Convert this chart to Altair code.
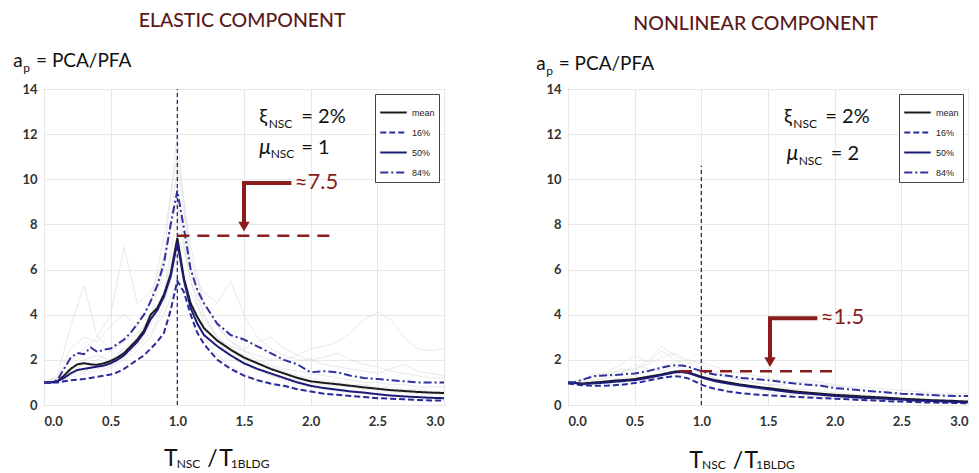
import altair as alt
import pandas as pd

# ---------------- data ----------------
STATS = ["mean", "16%", "50%", "84%"]
STAT_COLORS = ["#1a1a1a", "#2a2a9c", "#1c1c78", "#3030a0"]
STAT_DASH = [[1, 0], [6, 3], [1, 0], [8, 3, 2, 3]]

x_stat = [0, 0.05, 0.1, 0.15, 0.2, 0.25, 0.3, 0.35, 0.4, 0.45, 0.5, 0.55, 0.6, 0.65, 0.7,
          0.75, 0.8, 0.85, 0.9, 0.95, 1.0, 1.05, 1.1, 1.15, 1.2, 1.3, 1.4, 1.5, 1.6, 1.7,
          1.8, 1.9, 2.0, 2.1, 2.2, 2.3, 2.4, 2.5, 2.6, 2.7, 2.8, 2.9, 3.0]

# elastic component
el_mean = [1.0, 1.0, 1.05, 1.3, 1.6, 1.8, 1.85, 1.8, 1.78, 1.85, 1.95, 2.1, 2.3, 2.6, 2.9,
           3.3, 4.0, 4.3, 4.9, 5.8, 7.4, 5.6, 4.5, 3.9, 3.4, 2.85, 2.45, 2.1, 1.85, 1.6,
           1.4, 1.2, 1.05, 0.98, 0.92, 0.85, 0.78, 0.72, 0.66, 0.62, 0.58, 0.55, 0.53]
el_p50 = [1.0, 1.0, 1.05, 1.2, 1.4, 1.55, 1.6, 1.65, 1.7, 1.75, 1.85, 2.0, 2.2, 2.5, 2.8,
          3.2, 3.8, 4.2, 4.8, 5.7, 7.2, 5.5, 4.3, 3.6, 3.1, 2.6, 2.2, 1.85, 1.6, 1.4,
          1.2, 1.0, 0.85, 0.75, 0.68, 0.6, 0.55, 0.48, 0.42, 0.38, 0.35, 0.32, 0.3]
el_p16 = [1.0, 1.0, 1.0, 1.05, 1.1, 1.12, 1.15, 1.2, 1.25, 1.3, 1.35, 1.45, 1.6, 1.8, 2.0,
          2.2, 2.5, 2.8, 3.2, 4.2, 5.5, 5.0, 4.0, 3.2, 2.7, 2.0, 1.6, 1.3, 1.1, 0.95,
          0.85, 0.7, 0.6, 0.5, 0.45, 0.4, 0.35, 0.3, 0.28, 0.25, 0.22, 0.2, 0.2]
el_p84 = [1.0, 1.0, 1.1, 1.6, 2.1, 2.3, 2.25, 2.55, 2.35, 2.45, 2.5, 2.7, 2.9, 3.2, 3.6,
          4.0, 4.6, 5.3, 6.3, 8.0, 9.5, 7.8, 6.0, 5.1, 4.5, 3.6, 3.1, 2.9, 2.6, 2.3,
          2.0, 1.8, 1.45, 1.5, 1.45, 1.3, 1.2, 1.15, 1.1, 1.05, 1.0, 1.0, 1.0]

# nonlinear component
nl_mean = [1.0, 0.98, 0.95, 0.97, 1.0, 1.02, 1.05, 1.08, 1.1, 1.12, 1.15, 1.2, 1.25, 1.3, 1.35,
           1.42, 1.48, 1.5, 1.45, 1.35, 1.25, 1.18, 1.1, 1.05, 1.0, 0.9, 0.82, 0.75, 0.68, 0.6,
           0.55, 0.5, 0.45, 0.42, 0.38, 0.35, 0.32, 0.28, 0.25, 0.22, 0.2, 0.18, 0.15]
nl_p50 = [1.0, 0.97, 0.93, 0.94, 0.96, 0.98, 1.0, 1.03, 1.05, 1.08, 1.1, 1.15, 1.2, 1.26, 1.32,
          1.38, 1.44, 1.46, 1.42, 1.32, 1.22, 1.14, 1.06, 1.0, 0.95, 0.86, 0.78, 0.7, 0.62, 0.55,
          0.5, 0.45, 0.4, 0.36, 0.32, 0.3, 0.27, 0.24, 0.2, 0.18, 0.16, 0.14, 0.12]
nl_p16 = [0.95, 0.92, 0.88, 0.86, 0.85, 0.85, 0.86, 0.88, 0.9, 0.93, 0.97, 1.02, 1.08, 1.14, 1.2,
          1.24, 1.27, 1.25, 1.18, 1.05, 0.9, 0.8, 0.72, 0.66, 0.6, 0.52, 0.47, 0.43, 0.4, 0.36,
          0.33, 0.3, 0.28, 0.25, 0.22, 0.2, 0.17, 0.15, 0.13, 0.11, 0.1, 0.09, 0.08]
nl_p84 = [1.0, 1.02, 1.1, 1.2, 1.28, 1.3, 1.32, 1.33, 1.35, 1.38, 1.4, 1.45, 1.5, 1.58, 1.65,
          1.72, 1.76, 1.75, 1.7, 1.6, 1.5, 1.42, 1.35, 1.32, 1.3, 1.2, 1.15, 1.1, 1.02, 0.95,
          0.9, 0.85, 0.75, 0.7, 0.65, 0.6, 0.55, 0.5, 0.48, 0.45, 0.42, 0.4, 0.4]

# individual records (faint grey)
x_rec = [round(i * 0.1, 1) for i in range(31)]
el_records = [
    [1.0, 1.1, 1.5, 1.8, 2.0, 2.4, 2.8, 3.5, 4.5, 6.5, 12.0, 6.0, 4.0, 3.0, 2.4, 2.0, 1.6, 1.3, 1.1, 0.9, 0.8, 0.7, 0.6, 0.55, 0.5, 0.45, 0.4, 0.4, 0.35, 0.3, 0.3],
    [1.0, 1.3, 3.5, 5.3, 3.0, 2.5, 2.8, 3.2, 3.8, 5.0, 8.5, 5.5, 3.5, 2.8, 2.2, 1.8, 1.5, 1.3, 1.2, 1.1, 1.0, 0.9, 0.85, 0.8, 0.7, 0.65, 0.6, 0.55, 0.5, 0.5, 0.45],
    [1.0, 1.2, 2.0, 2.5, 3.0, 4.0, 7.0, 4.5, 5.0, 6.5, 9.0, 5.5, 4.0, 3.0, 2.5, 2.2, 1.9, 1.7, 1.5, 1.3, 1.2, 1.1, 1.0, 0.9, 0.9, 0.8, 0.8, 0.7, 0.7, 0.6, 0.6],
    [1.0, 1.1, 1.6, 2.0, 2.2, 2.0, 2.5, 3.0, 4.0, 6.0, 10.5, 6.5, 4.5, 3.5, 2.8, 2.4, 2.2, 2.0, 2.0, 2.2, 2.5, 2.6, 2.8, 3.2, 3.8, 4.1, 3.8, 3.0, 2.5, 2.4, 2.5],
    [1.0, 1.0, 1.4, 1.6, 1.8, 2.0, 2.3, 2.8, 3.5, 5.0, 7.5, 6.0, 5.0, 4.5, 5.5, 4.0, 3.0, 2.5, 2.2, 2.0, 2.0, 2.1, 2.3, 2.0, 1.8, 1.7, 1.5, 1.4, 1.3, 1.2, 1.2],
    [1.0, 1.0, 1.2, 1.4, 1.5, 1.7, 2.0, 2.4, 3.0, 4.5, 6.5, 4.5, 3.0, 2.2, 1.7, 1.4, 1.1, 0.9, 0.8, 0.7, 0.6, 0.5, 0.45, 0.4, 0.35, 0.3, 0.3, 0.25, 0.25, 0.2, 0.2],
    [1.0, 1.2, 2.5, 3.0, 2.8, 3.5, 4.0, 3.5, 4.5, 7.5, 11.0, 7.0, 4.5, 3.5, 2.8, 2.5, 2.8, 3.0, 2.5, 2.2, 2.0, 1.8, 1.7, 1.6, 1.5, 1.4, 1.6, 1.8, 1.5, 1.4, 1.3],
    [1.0, 1.0, 1.3, 1.5, 1.6, 1.8, 2.1, 2.6, 3.2, 4.0, 5.5, 5.0, 3.8, 3.0, 2.6, 2.4, 2.0, 1.8, 1.6, 1.5, 1.4, 1.3, 1.2, 1.1, 1.0, 1.0, 0.9, 0.9, 0.8, 0.8, 0.8],
]
nl_records = [
    [1.0, 1.0, 1.2, 1.5, 1.8, 2.2, 1.9, 2.4, 2.0, 1.7, 1.4, 1.2, 1.0, 0.9, 0.8, 0.7, 0.6, 0.5, 0.5, 0.4, 0.4, 0.35, 0.3, 0.3, 0.25, 0.25, 0.2, 0.2, 0.2, 0.15, 0.15],
    [1.0, 1.1, 1.4, 1.3, 1.6, 1.5, 2.0, 2.6, 2.2, 1.9, 1.6, 1.4, 1.2, 1.1, 1.0, 0.9, 0.9, 1.0, 1.1, 1.0, 0.9, 0.8, 0.7, 0.6, 0.6, 0.5, 0.5, 0.45, 0.4, 0.4, 0.4],
    [1.0, 0.9, 1.0, 1.1, 1.2, 1.3, 1.5, 1.7, 1.9, 2.0, 1.8, 1.5, 1.3, 1.1, 1.0, 0.9, 0.8, 0.7, 0.7, 0.6, 0.55, 0.5, 0.45, 0.4, 0.35, 0.3, 0.3, 0.25, 0.25, 0.2, 0.2],
    [1.0, 1.0, 1.1, 1.2, 1.4, 1.8, 1.6, 1.5, 1.7, 1.5, 1.3, 1.1, 0.9, 0.8, 0.7, 0.6, 0.5, 0.45, 0.4, 0.35, 0.3, 0.3, 0.25, 0.2, 0.2, 0.2, 0.15, 0.15, 0.1, 0.1, 0.1],
    [1.0, 1.1, 1.3, 1.4, 1.5, 1.6, 1.8, 2.1, 2.3, 2.0, 1.9, 1.7, 1.5, 1.4, 1.3, 1.2, 1.1, 1.0, 1.0, 0.9, 0.85, 0.8, 0.8, 0.75, 0.7, 0.65, 0.6, 0.55, 0.5, 0.5, 0.5],
]

# annotation values
el_level = 7.5
nl_level = 1.5
el_vline_top = 14
nl_vline_top = 10.6

TITLE_COLOR = "#5a1a1a"
RED = "#8b1c1c"
INK = "#111111"
FONT = "Lato"

AXIS_STYLE = dict(title=None, ticks=False, domain=False, gridColor="#e8e8e8",
                  labelFont=FONT, labelFontWeight="bold", labelFontSize=13,
                  labelColor="#333")


def panel(stats, records, level, lvl_x0, lvl_x1, arrow_x, arrow_top, vtop):
    sdf = pd.concat([
        pd.DataFrame({"x": x_stat, "y": vals, "stat": s}) for s, vals in zip(STATS, stats)
    ])
    rdf = pd.concat([
        pd.DataFrame({"x": x_rec, "y": vals, "rec": i}) for i, vals in enumerate(records)
    ])
    xs = alt.Scale(domain=[0, 3], nice=False)
    ys = alt.Scale(domain=[0, 14], nice=False)
    X = alt.X("x:Q", scale=xs, axis=alt.Axis(values=[0, 0.5, 1, 1.5, 2, 2.5, 3], format=".1f",
                                               labelPadding=10, **AXIS_STYLE))
    Y = alt.Y("y:Q", scale=ys, axis=alt.Axis(values=list(range(0, 15, 2)),
                                               labelPadding=7, **AXIS_STYLE))

    grey = alt.Chart(rdf).mark_line(strokeWidth=0.8, color="#dcdcdc", opacity=0.8).encode(
        x=X, y=Y, detail="rec:N")

    stat_lines = alt.Chart(sdf).mark_line(strokeWidth=2).encode(
        x=X, y=Y,
        color=alt.Color("stat:N", scale=alt.Scale(domain=STATS, range=STAT_COLORS),
                        legend=alt.Legend(title=None, orient="top-right")),
        strokeDash=alt.StrokeDash("stat:N", scale=alt.Scale(domain=STATS, range=STAT_DASH),
                                  legend=alt.Legend(title=None, orient="top-right")),
    )

    vdf = pd.DataFrame({"x": [1.0], "y": [0.0], "y2": [vtop]})
    vline = alt.Chart(vdf).mark_rule(color="#2a2a7a", strokeDash=[4, 3], strokeWidth=1.3).encode(
        x="x:Q", y="y:Q", y2="y2:Q")

    ldf = pd.DataFrame({"x": [lvl_x0], "x2": [lvl_x1], "y": [level]})
    lvl = alt.Chart(ldf).mark_rule(color=RED, strokeDash=[12, 8], strokeWidth=2.5).encode(
        x="x:Q", x2="x2:Q", y="y:Q")

    adf = pd.DataFrame({"x": [arrow_x + 0.355, arrow_x, arrow_x],
                        "y": [arrow_top, arrow_top, level + 0.55], "o": [0, 1, 2]})
    arrow = alt.Chart(adf).mark_line(color=RED, strokeWidth=4).encode(
        x="x:Q", y="y:Q", order="o:Q")
    hdf = pd.DataFrame({"x": [arrow_x], "y": [level + 0.4]})
    head = alt.Chart(hdf).mark_point(shape="triangle-down", filled=True, color=RED,
                                      size=130, opacity=1).encode(x="x:Q", y="y:Q")
    tdf = pd.DataFrame({"x": [arrow_x + 0.38], "y": [arrow_top + 0.05],
                        "t": ["\u2248" + str(level)]})
    atext = alt.Chart(tdf).mark_text(color=RED, fontSize=22, font=FONT, align="left",
                                     baseline="middle").encode(x="x:Q", y="y:Q", text="t:N")
    return [grey, vline, stat_lines, lvl, arrow, head, atext]


def texts(rows, color=INK, italic=False, weight="normal"):
    df = pd.DataFrame(rows, columns=["x", "y", "t", "fs"])
    return alt.Chart(df).mark_text(font=FONT, align="left", baseline="middle", color=color,
                                   fontWeight=weight,
                                   fontStyle="italic" if italic else "normal").encode(
        x="x:Q", y="y:Q", text="t:N",
        size=alt.Size("fs:Q", scale=None, legend=None),
    )


L = panel([el_mean, el_p16, el_p50, el_p84], el_records, el_level, 1.0, 2.17,
          1.5, 9.83, el_vline_top)
R = panel([nl_mean, nl_p16, nl_p50, nl_p84], nl_records, nl_level, 0.84, 1.99,
          1.515, 3.84, nl_vline_top)

left_title = texts([[0.71, 17.0, "ELASTIC COMPONENT", 19.5]], color=TITLE_COLOR, weight=500)
left_txt = texts([
    [-0.23, 15.25, "a", 19],
    [-0.155, 14.95, "p", 12],
    [-0.06, 15.25, "= PCA/PFA", 19],
    [1.615, 12.75, "\u03be", 20],
    [1.685, 12.45, "NSC", 12],
    [1.93, 12.75, "= 2%", 20],
    [1.70, 11.1, "NSC", 12],
    [1.93, 11.4, "= 1", 20],
    [0.90, -2.4, "T", 23],
    [0.995, -2.6, "NSC", 12],
    [1.225, -2.4, "/\u200aT", 23],
    [1.40, -2.6, "1BLDG", 12],
])
left_mu = texts([[1.615, 11.4, "\u03bc", 21]], italic=True)

right_title = texts([[0.49, 16.87, "NONLINEAR COMPONENT", 19.5]], color=TITLE_COLOR, weight=500)
right_txt = texts([
    [-0.238, 15.1, "a", 19],
    [-0.163, 14.8, "p", 12],
    [-0.07, 15.1, "= PCA/PFA", 19],
    [1.62, 12.76, "\u03be", 20],
    [1.69, 12.46, "NSC", 12],
    [1.93, 12.76, "= 2%", 20],
    [1.73, 10.8, "NSC", 12],
    [1.97, 11.1, "= 2", 20],
    [0.91, -2.47, "T", 23],
    [1.005, -2.67, "NSC", 12],
    [1.235, -2.47, "/\u200aT", 23],
    [1.41, -2.67, "1BLDG", 12],
])
right_mu = texts([[1.64, 11.1, "\u03bc", 21]], italic=True)

W, H = 400, 316

left = alt.layer(*L, left_title, left_txt, left_mu).properties(width=W, height=H)
right = alt.layer(*R, right_title, right_txt, right_mu).properties(width=W, height=H)

chart = alt.hconcat(left, right, spacing=124, bounds="flush").resolve_scale(
    color="independent", strokeDash="independent"
).properties(
    padding={"left": 12, "top": 10, "right": 5, "bottom": 5},
    background="white",
).configure_view(
    stroke="#666", strokeWidth=1
).configure_legend(
    fillColor="white", strokeColor="#444", padding=4, offset=5, rowPadding=0,
    labelFontSize=9, labelFont="Arial", symbolType="stroke", symbolSize=700,
    symbolStrokeWidth=2, cornerRadius=0, labelColor="#222"
)

chart.save("out.html", embed_options={"renderer": "svg", "actions": False})
